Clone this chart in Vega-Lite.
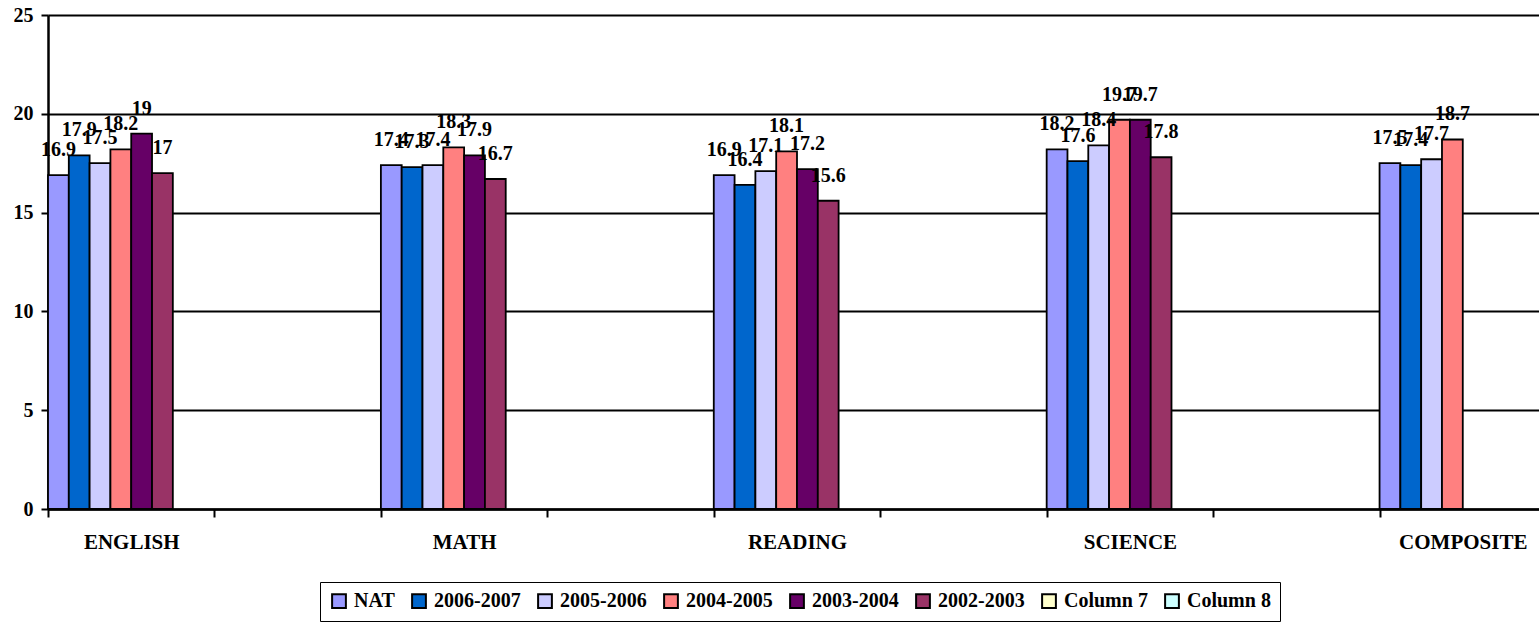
{
  "$schema": "https://vega.github.io/schema/vega-lite/v6.json",
  "width": 1498,
  "height": 494,
  "autosize": {"type": "none"},
  "padding": {"left": 48, "top": 15, "right": 0, "bottom": 114},
  "background": "white",
  "config": {
    "view": {"stroke": null},
    "font": "Liberation Serif"
  },
  "data": {
    "values": [
      {"subject": "ENGLISH", "series": "NAT", "score": 16.9},
      {"subject": "ENGLISH", "series": "2006-2007", "score": 17.9},
      {"subject": "ENGLISH", "series": "2005-2006", "score": 17.5},
      {"subject": "ENGLISH", "series": "2004-2005", "score": 18.2},
      {"subject": "ENGLISH", "series": "2003-2004", "score": 19},
      {"subject": "ENGLISH", "series": "2002-2003", "score": 17},
      {"subject": "MATH", "series": "NAT", "score": 17.4},
      {"subject": "MATH", "series": "2006-2007", "score": 17.3},
      {"subject": "MATH", "series": "2005-2006", "score": 17.4},
      {"subject": "MATH", "series": "2004-2005", "score": 18.3},
      {"subject": "MATH", "series": "2003-2004", "score": 17.9},
      {"subject": "MATH", "series": "2002-2003", "score": 16.7},
      {"subject": "READING", "series": "NAT", "score": 16.9},
      {"subject": "READING", "series": "2006-2007", "score": 16.4},
      {"subject": "READING", "series": "2005-2006", "score": 17.1},
      {"subject": "READING", "series": "2004-2005", "score": 18.1},
      {"subject": "READING", "series": "2003-2004", "score": 17.2},
      {"subject": "READING", "series": "2002-2003", "score": 15.6},
      {"subject": "SCIENCE", "series": "NAT", "score": 18.2},
      {"subject": "SCIENCE", "series": "2006-2007", "score": 17.6},
      {"subject": "SCIENCE", "series": "2005-2006", "score": 18.4},
      {"subject": "SCIENCE", "series": "2004-2005", "score": 19.7},
      {"subject": "SCIENCE", "series": "2003-2004", "score": 19.7},
      {"subject": "SCIENCE", "series": "2002-2003", "score": 17.8},
      {"subject": "COMPOSITE", "series": "NAT", "score": 17.5},
      {"subject": "COMPOSITE", "series": "2006-2007", "score": 17.4},
      {"subject": "COMPOSITE", "series": "2005-2006", "score": 17.7},
      {"subject": "COMPOSITE", "series": "2004-2005", "score": 18.7}
    ]
  },
  "encoding": {
    "x": {
      "field": "subject",
      "type": "nominal",
      "scale": {
        "domain": ["ENGLISH", " ", "MATH", "  ", "READING", "   ", "SCIENCE", "    ", "COMPOSITE"],
        "paddingInner": 0,
        "paddingOuter": 0
      },
      "axis": {
        "title": null,
        "labelAngle": 0,
        "labelFont": "Liberation Serif",
        "labelFontWeight": "bold",
        "labelFontSize": 21,
        "labelColor": "black",
        "labelPadding": 14,
        "tickBand": "extent",
        "tickColor": "black",
        "tickSize": 8,
        "tickWidth": 2,
        "domainColor": "black",
        "domainWidth": 2.5,
        "grid": false
      }
    },
    "xOffset": {
      "field": "series",
      "type": "nominal",
      "scale": {
        "domain": ["NAT", "2006-2007", "2005-2006", "2004-2005", "2003-2004", "2002-2003", "Column 7", "Column 8"],
        "paddingInner": 0,
        "paddingOuter": 0
      }
    },
    "y": {
      "field": "score",
      "type": "quantitative",
      "scale": {"domain": [0, 25], "nice": false},
      "axis": {
        "title": null,
        "values": [0, 5, 10, 15, 20, 25],
        "labelFont": "Liberation Serif",
        "labelFontWeight": "bold",
        "labelFontSize": 20,
        "labelColor": "black",
        "labelPadding": 8,
        "tickColor": "black",
        "tickSize": 7,
        "tickWidth": 2,
        "domainColor": "black",
        "domainWidth": 2.5,
        "grid": true,
        "gridColor": "black",
        "gridWidth": 2,
        "gridOpacity": 1
      }
    }
  },
  "layer": [
    {
      "mark": {"type": "bar", "stroke": "black", "strokeWidth": 1.8},
      "encoding": {
        "color": {
          "field": "series",
          "type": "nominal",
          "scale": {
            "domain": ["NAT", "2006-2007", "2005-2006", "2004-2005", "2003-2004", "2002-2003", "Column 7", "Column 8"],
            "range": ["#9999FF", "#0066CC", "#CCCCFF", "#FF8080", "#660066", "#993366", "#FFFFCC", "#CCFFFF"]
          },
          "legend": {
            "title": null,
            "orient": "none",
            "direction": "horizontal",
            "legendX": 272,
            "legendY": 567,
            "strokeColor": "black",
            "padding": 9,
            "symbolType": "square",
            "symbolSize": 190,
            "symbolStrokeColor": "black",
            "symbolStrokeWidth": 2,
            "symbolOpacity": 1,
            "labelFont": "Liberation Serif",
            "labelFontWeight": "bold",
            "labelFontSize": 20,
            "labelColor": "black",
            "labelOffset": 5,
            "columnPadding": 13
          }
        }
      }
    },
    {
      "mark": {
        "type": "text",
        "baseline": "alphabetic",
        "dy": -19,
        "font": "Liberation Serif",
        "fontWeight": "bold",
        "fontSize": 20,
        "color": "black"
      },
      "encoding": {
        "text": {"field": "score", "type": "quantitative"}
      }
    }
  ]
}
